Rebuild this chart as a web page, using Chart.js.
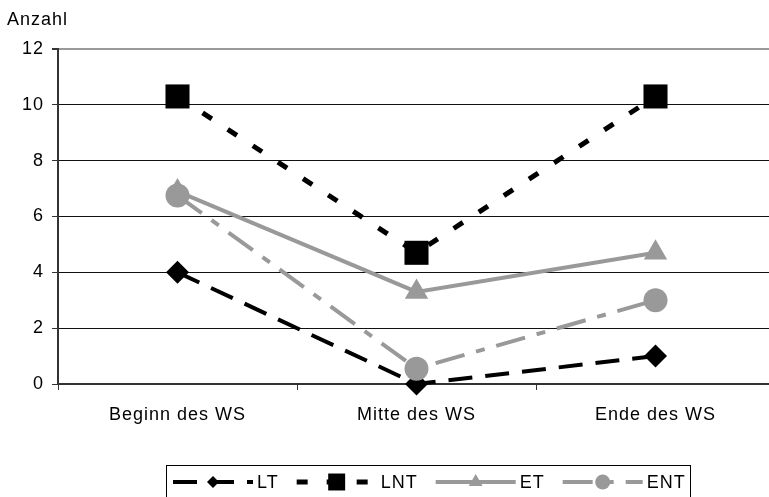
<!DOCTYPE html>
<html><head><meta charset="utf-8">
<script src="https://cdn.jsdelivr.net/npm/chart.js@4"></script>
<style>html,body{margin:0;padding:0;overflow:hidden;background:#fff}
#wrap{width:776px;height:497px;position:relative}</style></head>
<body><div id="wrap"><canvas id="c" width="776" height="497"></canvas></div>
<script>
const categories = ['Beginn des WS', 'Mitte des WS', 'Ende des WS'];
const seriesNames = ['LT', 'LNT', 'ET', 'ENT'];
const LT = [4, 0, 1];
const LNT = [10.3, 4.7, 10.3];
const ET = [6.9, 3.3, 4.7];
const ENT = [6.75, 0.55, 3.0];
const yTicks = [0, 2, 4, 6, 8, 10, 12];
const yTitle = 'Anzahl';

const FONT = '"Liberation Sans", Arial, sans-serif';
const LS = '1px';
const legendRadius = [6, 12, 8, 7.5];

function marker(ctx, style, r, x, y) {
  ctx.beginPath();
  if (style === 'rectRot') {
    ctx.moveTo(x, y - r); ctx.lineTo(x + r, y); ctx.lineTo(x, y + r); ctx.lineTo(x - r, y); ctx.closePath();
  } else if (style === 'rect') {
    const s = r * Math.SQRT1_2; ctx.rect(x - s, y - s, 2 * s, 2 * s);
  } else if (style === 'triangle') {
    ctx.moveTo(x, y - r);
    ctx.lineTo(x + r * Math.sin(2 * Math.PI / 3), y - r * Math.cos(2 * Math.PI / 3));
    ctx.lineTo(x - r * Math.sin(2 * Math.PI / 3), y - r * Math.cos(2 * Math.PI / 3));
    ctx.closePath();
  } else {
    ctx.arc(x, y, r, 0, Math.PI * 2);
  }
  ctx.fill();
}

const extras = {
  id: 'extras',
  beforeLayout(chart) { chart.ctx.letterSpacing = LS; },
  beforeDraw(chart) { chart.ctx.letterSpacing = LS; },
  afterDraw(chart) {
    const ctx = chart.ctx;
    ctx.save();
    ctx.letterSpacing = LS;
    ctx.font = '18px ' + FONT;
    ctx.fillStyle = '#000';
    ctx.textBaseline = 'middle';
    ctx.textAlign = 'left';
    ctx.fillText(yTitle, 7, 20);
    // legend box
    ctx.strokeStyle = '#000';
    ctx.lineWidth = 1;
    ctx.setLineDash([]);
    ctx.strokeRect(166.5, 465.5, 524, 40);
    let x = 173;
    const y = 482;
    chart.data.datasets.forEach((ds, i) => {
      ctx.setLineDash(ds.borderDash || []);
      ctx.strokeStyle = ds.borderColor;
      ctx.lineWidth = ds.borderWidth;
      ctx.beginPath(); ctx.moveTo(x, y); ctx.lineTo(x + 80, y); ctx.stroke();
      ctx.setLineDash([]);
      ctx.fillStyle = ds.backgroundColor;
      marker(ctx, ds.pointStyle, legendRadius[i], x + 40, y);
      ctx.fillStyle = '#000';
      ctx.fillText(ds.label, x + 84, y + 1);
      x += 84 + ctx.measureText(ds.label).width + 18;
    });
    ctx.restore();
  }
};

const styles = [
  { c: '#000', w: 4, dash: [24, 13], ps: 'rectRot', r: 11.5, order: 4 },
  { c: '#000', w: 5, dash: [11, 19], ps: 'rect', r: 17, order: 3 },
  { c: '#999', w: 4, dash: [], ps: 'triangle', r: 13.5, order: 2 },
  { c: '#999', w: 4, dash: [30, 12, 9, 12], ps: 'circle', r: 12, order: 1 }
];
const values = [LT, LNT, ET, ENT];

new Chart(document.getElementById('c'), {
  type: 'line',
  data: {
    labels: categories,
    datasets: seriesNames.map((n, i) => ({
      label: n,
      data: values[i],
      borderColor: styles[i].c,
      backgroundColor: styles[i].c,
      borderWidth: styles[i].w,
      borderDash: styles[i].dash,
      pointStyle: styles[i].ps,
      pointRadius: styles[i].r,
      pointHoverRadius: styles[i].r,
      pointBorderWidth: 0,
      pointBackgroundColor: styles[i].c,
      tension: 0,
      clip: false,
      order: styles[i].order
    }))
  },
  options: {
    responsive: false,
    animation: false,
    events: [],
    layout: { autoPadding: false, padding: { top: 49, left: 0, right: 1, bottom: 0 } },
    plugins: { legend: { display: false }, tooltip: { enabled: false } },
    scales: {
      x: {
        offset: true,
        afterFit(s) { s.height = 113; s.paddingLeft = 0; s.paddingRight = 0; },
        grid: { drawOnChartArea: false, drawTicks: true, tickLength: 6, offset: true, color: '#333', tickColor: '#333' },
        border: { display: true, color: '#333', width: 2 },
        ticks: { color: '#000', font: { size: 18, family: FONT }, padding: 14, maxRotation: 0, autoSkip: false }
      },
      y: {
        min: 0, max: 12,
        afterFit(s) { s.width = 58; s.paddingTop = 0; s.paddingBottom = 0; },
        afterBuildTicks(s) { s.ticks = yTicks.map(v => ({ value: v })); },
        grid: {
          color: c => (c.tick && c.tick.value === 12) ? '#999' : '#111',
          lineWidth: c => (c.tick && c.tick.value === 12) ? 2 : 1,
          tickLength: 6, tickColor: '#333'
        },
        border: { display: true, color: '#333', width: 2 },
        ticks: { color: '#000', font: { size: 18, family: FONT }, padding: 8 }
      }
    }
  },
  plugins: [extras]
});
</script></body></html>
